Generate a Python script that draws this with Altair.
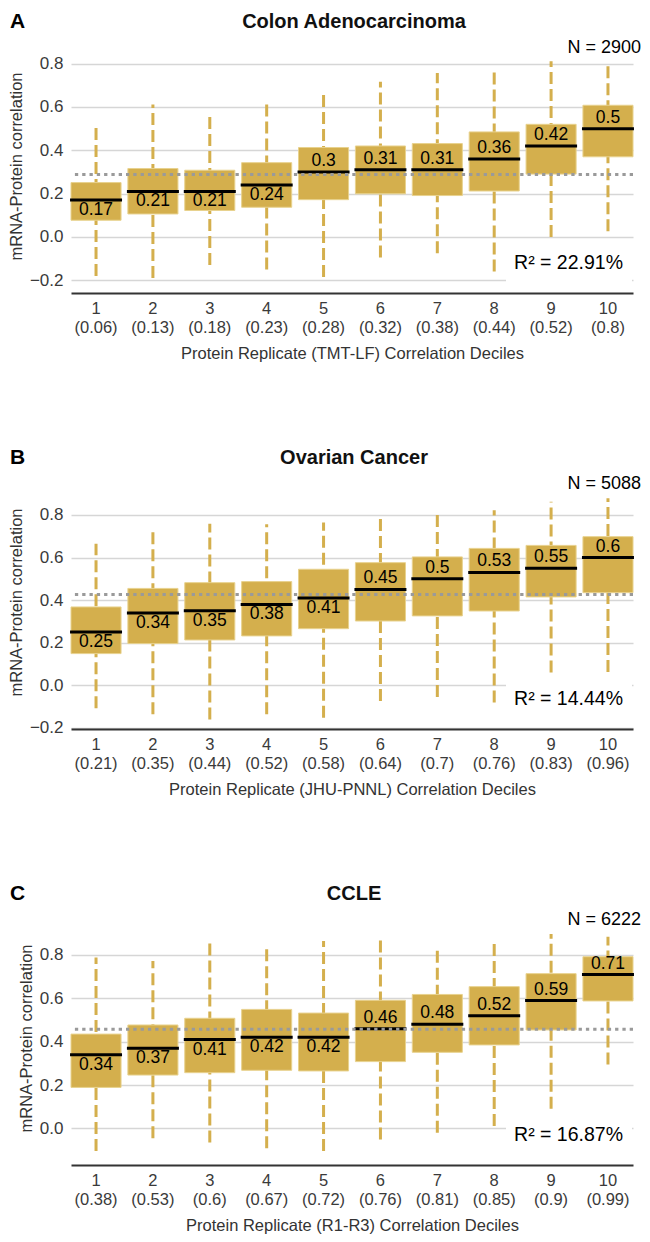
import altair as alt
import pandas as pd

deciles = ["1", "2", "3", "4", "5", "6", "7", "8", "9", "10"]

# ---- Panel A: Colon Adenocarcinoma ----
colon_cut = ["(0.06)", "(0.13)", "(0.18)", "(0.23)", "(0.28)", "(0.32)", "(0.38)", "(0.44)", "(0.52)", "(0.8)"]
colon_low = [-0.18, -0.19, -0.13, -0.15, -0.185, -0.095, -0.075, -0.16, 0.0, 0.026]
colon_q1 = [0.077, 0.106, 0.122, 0.137, 0.172, 0.199, 0.191, 0.212, 0.29, 0.37]
colon_med = [0.17, 0.21, 0.21, 0.24, 0.30, 0.31, 0.31, 0.36, 0.42, 0.50]
colon_q3 = [0.251, 0.316, 0.308, 0.343, 0.413, 0.42, 0.431, 0.485, 0.52, 0.608]
colon_high = [0.513, 0.611, 0.568, 0.627, 0.670, 0.716, 0.757, 0.762, 0.811, 0.808]
colon_ref = 0.288

# ---- Panel B: Ovarian Cancer ----
ovar_cut = ["(0.21)", "(0.35)", "(0.44)", "(0.52)", "(0.58)", "(0.64)", "(0.7)", "(0.76)", "(0.83)", "(0.96)"]
ovar_low = [-0.108, -0.136, -0.16, -0.136, -0.152, -0.073, -0.055, -0.081, 0.06, 0.063]
ovar_q1 = [0.149, 0.196, 0.213, 0.232, 0.266, 0.302, 0.326, 0.349, 0.415, 0.435]
ovar_med = [0.25, 0.34, 0.35, 0.38, 0.41, 0.45, 0.50, 0.53, 0.55, 0.60]
ovar_q3 = [0.368, 0.455, 0.482, 0.487, 0.545, 0.576, 0.603, 0.643, 0.657, 0.698]
ovar_high = [0.665, 0.722, 0.759, 0.756, 0.764, 0.792, 0.815, 0.822, 0.862, 0.878]
ovar_ref = 0.427

# ---- Panel C: CCLE ----
ccle_cut = ["(0.38)", "(0.53)", "(0.6)", "(0.67)", "(0.72)", "(0.76)", "(0.81)", "(0.85)", "(0.9)", "(0.99)"]
ccle_low = [-0.104, -0.046, -0.065, -0.092, -0.104, -0.051, -0.02, 0.011, 0.09, 0.295]
ccle_q1 = [0.189, 0.246, 0.257, 0.268, 0.265, 0.308, 0.351, 0.385, 0.454, 0.588]
ccle_med = [0.34, 0.37, 0.41, 0.42, 0.42, 0.46, 0.48, 0.52, 0.59, 0.71]
ccle_q3 = [0.435, 0.477, 0.508, 0.549, 0.532, 0.591, 0.618, 0.654, 0.714, 0.792]
ccle_high = [0.789, 0.772, 0.861, 0.826, 0.865, 0.874, 0.834, 0.869, 0.897, 0.884]
ccle_ref = 0.457

panel_letters = ["A", "B", "C"]
panel_titles = ["Colon Adenocarcinoma", "Ovarian Cancer", "CCLE"]
x_titles = [
    "Protein Replicate (TMT-LF) Correlation Deciles",
    "Protein Replicate (JHU-PNNL) Correlation Deciles",
    "Protein Replicate (R1-R3) Correlation Deciles",
]
n_texts = ["N = 2900", "N = 5088", "N = 6222"]
r2_texts = ["R\u00b2 = 22.91%", "R\u00b2 = 14.44%", "R\u00b2 = 16.87%"]
y_domains = [[-0.259, 0.914], [-0.205, 0.9875], [-0.169, 1.003]]
y_ticks = [-0.2, 0.0, 0.2, 0.4, 0.6, 0.8]

FONT = "Liberation Sans"
GOLD = "#D4AF4D"
GOLD_EDGE = "#E8D28E"
W, H = 562, 254


def panel(i, cuts, low, q1, med, q3, high, ref):
    labs = [f"{d}\n{c}" for d, c in zip(deciles, cuts)]
    df = pd.DataFrame({"lab": labs, "low": low, "q1": q1, "med": med, "q3": q3, "high": high})
    df["pos"] = ["above" if m >= ref else "below" for m in med]

    x = alt.X(
        "lab:N",
        sort=labs,
        scale=alt.Scale(paddingInner=0.12, paddingOuter=0),
        title=x_titles[i],
        axis=alt.Axis(
            labelExpr="split(datum.label, '\\n')",
            labelAngle=0,
            labelFontSize=16.5,
            labelLineHeight=19,
            labelPadding=7,
            labelColor="#3a3a3a",
            labelFont=FONT,
            ticks=False,
            grid=False,
            domainColor="#333333",
            domainWidth=2,
            titleFont=FONT,
            titleFontSize=16.5,
            titleFontWeight="normal",
            titleColor="#333333",
            titlePadding=10,
        ),
    )
    ysc = alt.Scale(domain=y_domains[i], nice=False, zero=False)
    yax = alt.Axis(
        values=y_ticks,
        format=".1f",
        domain=False,
        ticks=False,
        grid=True,
        gridColor="#D6D6D6",
        gridWidth=1.3,
        labelFont=FONT,
        labelFontSize=17,
        labelColor="#3a3a3a",
        labelPadding=8,
        titleFont=FONT,
        titleFontSize=16.5,
        titleFontWeight="normal",
        titleColor="#333333",
        titlePadding=5,
    )
    base = alt.Chart(df)
    whisk = base.mark_rule(color=GOLD, strokeWidth=3, strokeDash=[12, 5]).encode(
        x=x, y=alt.Y("low:Q", scale=ysc, axis=yax, title="mRNA-Protein correlation"), y2="high:Q"
    )
    box = base.mark_bar(color=GOLD, stroke=GOLD_EDGE, strokeWidth=1).encode(
        x=x, y=alt.Y("q1:Q", scale=ysc), y2="q3:Q"
    )
    medline = base.mark_tick(color="black", thickness=3, size=52, opacity=1).encode(
        x=x, y=alt.Y("med:Q", scale=ysc)
    )
    refline = alt.Chart(pd.DataFrame({"ref": [ref]})).mark_rule(
        color="#9A9A9A", strokeWidth=3, strokeDash=[3.3, 4]
    ).encode(y=alt.Y("ref:Q", scale=ysc))
    lab_up = base.transform_filter("datum.pos == 'above'").mark_text(
        dy=-11, fontSize=17.5, font=FONT, color="black"
    ).encode(x=x, y=alt.Y("med:Q", scale=ysc), text=alt.Text("med:Q", format=".2~f"))
    lab_dn = base.transform_filter("datum.pos == 'below'").mark_text(
        dy=10, fontSize=17.5, font=FONT, color="black"
    ).encode(x=x, y=alt.Y("med:Q", scale=ysc), text=alt.Text("med:Q", format=".2~f"))

    txt = pd.DataFrame({"t": [0]})
    letter = alt.Chart(txt).mark_text(
        text=panel_letters[i], font=FONT, fontSize=21, fontWeight="bold", align="left", baseline="middle", color="black"
    ).encode(x=alt.value(-61), y=alt.value(-17))
    title = alt.Chart(txt).mark_text(
        text=panel_titles[i], font=FONT, fontSize=20, fontWeight="bold", align="center", baseline="middle", color="#111111"
    ).encode(x=alt.value(W / 2 + 2), y=alt.value(-17))
    ntext = alt.Chart(txt).mark_text(
        text=n_texts[i], font=FONT, fontSize=18, align="right", baseline="middle", color="black"
    ).encode(x=alt.value(W + 8), y=alt.value(8.5))
    r2bg = alt.Chart(txt).mark_rect(color="white").encode(
        x=alt.value(W - 127), x2=alt.value(W - 1), y=alt.value(H - 48), y2=alt.value(H - 10)
    )
    r2 = alt.Chart(txt).mark_text(
        text=r2_texts[i], font=FONT, fontSize=19.5, align="right", baseline="middle", color="black"
    ).encode(x=alt.value(W - 10), y=alt.value(H - 30))

    return alt.layer(
        whisk, box, medline, refline, lab_up, lab_dn, letter, title, ntext, r2bg, r2
    ).properties(width=W, height=H)


pA = panel(0, colon_cut, colon_low, colon_q1, colon_med, colon_q3, colon_high, colon_ref)
pB = panel(1, ovar_cut, ovar_low, ovar_q1, ovar_med, ovar_q3, ovar_high, ovar_ref)
pC = panel(2, ccle_cut, ccle_low, ccle_q1, ccle_med, ccle_q3, ccle_high, ccle_ref)

chart = (
    alt.vconcat(pA, pB, pC, spacing=85)
    .properties(
        padding={"top": 3, "left": 0, "right": 0, "bottom": 0},
        autosize=alt.AutoSizeParams(type="pad"),
        background="white",
    )
    .configure_view(strokeWidth=0)
)

chart.save("out.html", embed_options={"renderer": "svg", "actions": False})
